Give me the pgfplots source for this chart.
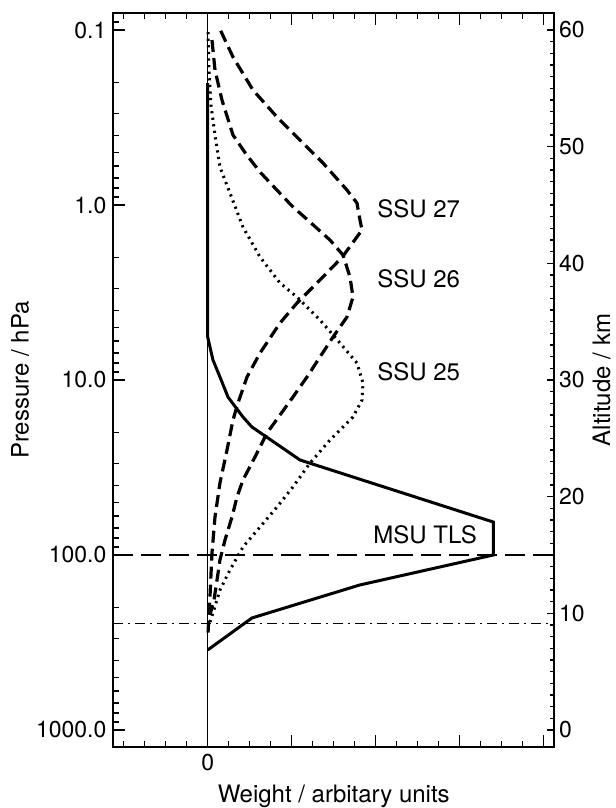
\documentclass[border=0pt]{standalone}
\usepackage{fontspec}
\setmainfont{TeX Gyre Heros}
\usepackage{pgfplots}
\pgfplotsset{compat=1.18}

\pgfplotsset{
  common/.style={
    scale only axis,
    width=220.25pt, height=367pt,
    xmin=-1.1214, xmax=4.1226,
    /pgf/number format/assume math mode=true,
    tick align=inside,
    axis line style={line width=1pt},
    every tick/.style={line width=0.75pt, black},
    tick label style={font=\fontsize{11.5}{13}\selectfont},
    label style={font=\fontsize{12}{14}\selectfont},
  }
}

\begin{document}
\begin{tikzpicture}[font=\fontsize{12}{14}\selectfont]
\begin{axis}[common,
  ymode=log, y dir=reverse,
  ymin=0.07994, ymax=1250.9,
  xtick={0,1,2,3,4}, xticklabels={0,,,,},
  minor xtick={-1,-0.75,-0.5,-0.25,0.25,0.5,0.75,1.25,1.5,1.75,2.25,2.5,2.75,3.25,3.5,3.75},
  xtick pos=both, xticklabel pos=bottom,
  ytick={0.1,1,10,100,1000},
  yticklabels={0.1,1.0,10.0,100.0,1000.0},
  minor ytick={0.08,0.09,0.2,0.3,0.4,0.5,0.6,0.7,0.8,0.9,2,3,4,5,6,7,8,9,20,30,40,50,60,70,80,90,200,300,400,500,600,700,800,900},
  ytick pos=left,
  major tick length=6pt, minor tick length=3pt,
  xlabel={Weight / arbitary units},
  ylabel={Pressure / hPa},
  every axis x label/.style={at={(axis description cs:0.5,-0.042)}, anchor=north},
  every axis y label/.style={at={(axis description cs:-0.212,0.5)}, rotate=90, anchor=center},
  clip=false,
]
% zero line
\addplot[black, line width=0.5pt] coordinates {(0,0.07994) (0,1250.9)};
% reference levels
\addplot[black, line width=0.8pt, dash pattern=on 10pt off 4pt] coordinates {(-1.1214,100) (4.1226,100)};
\addplot[black, line width=0.7pt, dash pattern=on 5pt off 2.5pt on 1pt off 2.5pt] coordinates {(-1.1214,246) (4.1226,246)};

% MSU TLS
\addplot[black, line width=1.5pt, line join=miter] coordinates {
(0,0.201) (0,5.68) (0.063,7.69) (0.146,9.61) (0.242,12.51) (0.420,16.27) (0.527,18.56)
(1.099,28.65) (3.40,64.8) (3.40,100) (1.81,148.4) (0.527,229) (0,349)};

% SSU 27
\addplot[black, line width=1.6pt, dash pattern=on 6pt off 3pt] coordinates {
(0.155,0.101) (0.301,0.1426) (0.539,0.2203) (0.825,0.3142) (1.099,0.4253) (1.373,0.5754)
(1.658,0.821) (1.777,0.974) (1.813,1.218) (1.837,1.389) (1.603,1.982) (1.301,2.791)
(1.063,3.631) (0.861,4.725) (0.623,7.008) (0.468,9.613) (0.361,13.53) (0.301,16.93)
(0.230,25.12) (0.146,38.78) (0.087,60.67) (0.051,97.4) (0.027,173.8) (0.004,279)};

% SSU 26
\addplot[black, line width=1.6pt, dash pattern=on 6pt off 3pt] coordinates {
(0.051,0.1141) (0.087,0.1693) (0.170,0.2512) (0.301,0.3981) (0.456,0.5110) (0.623,0.6477)
(0.801,0.7995) (1.004,1.013) (1.218,1.251) (1.456,1.585) (1.611,1.931) (1.694,2.579)
(1.730,3.356) (1.658,4.365) (1.492,5.68) (1.337,7.389) (1.182,9.61) (1.015,12.51)
(0.861,15.85) (0.706,20.09) (0.563,27.54) (0.420,37.28) (0.349,46.63) (0.289,60.67)
(0.206,82.1) (0.146,106.8) (0.111,139) (0.075,180.7) (0.027,220.3)};

% SSU 25
\addplot[black, line width=1.5pt, dash pattern=on 1.1pt off 2.2pt] coordinates {
(0.004,0.1027) (0.015,0.1693) (0.039,0.2683) (0.087,0.3981) (0.146,0.6066) (0.265,0.854)
(0.420,1.336) (0.623,1.982) (0.861,2.791) (1.063,3.356) (1.337,4.541) (1.575,6.146)
(1.777,7.998) (1.849,10.40) (1.837,13.01) (1.730,16.27) (1.456,22.03) (1.218,29.81)
(1.015,40.88) (0.825,53.19) (0.623,69.18) (0.420,90.0) (0.265,121.8) (0.146,158.5)
(0.063,214.5) (0.015,251.2)};

\node[anchor=base west, inner sep=0pt] at (axis cs:2.015,1.171) {SSU 27};
\node[anchor=base west, inner sep=0pt] at (axis cs:2.015,2.942) {SSU 26};
\node[anchor=base west, inner sep=0pt] at (axis cs:2.015,10) {SSU 25};
\node[anchor=base west, inner sep=0pt] at (axis cs:1.968,85.4) {MSU TLS};

\coordinate (bbsw) at (rel axis cs:-0.25766,-0.08311);
\coordinate (bbne) at (rel axis cs:1.14075,1.01771);
\end{axis}

\begin{axis}[common,
  ymin=-1.457, ymax=61.457,
  hide x axis,
  ytick={0,10,20,30,40,50,60},
  minor y tick num=9,
  ytick pos=right, yticklabel pos=right,
  major tick length=3.5pt, minor tick length=2pt,
  yticklabel style={xshift=-1pt},
  ylabel={Altitude / km},
  every axis y label/.style={at={(axis description cs:1.108,0.5)}, rotate=90, anchor=center},
]
\end{axis}
\pgfresetboundingbox
\useasboundingbox (bbsw) rectangle (bbne);
\end{tikzpicture}
\end{document}
